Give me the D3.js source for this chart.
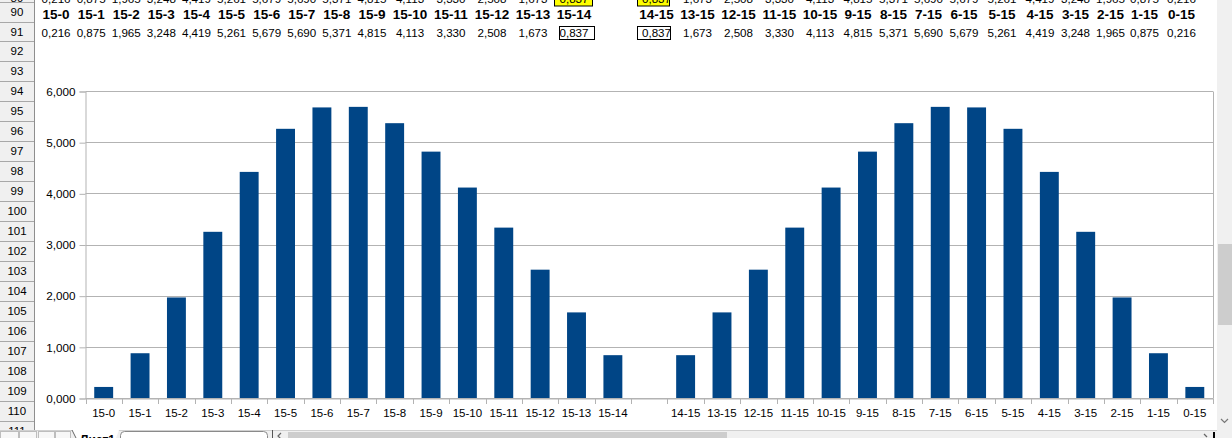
<!DOCTYPE html>
<html>
<head>
<meta charset="utf-8">
<title>15-n / n-15</title>
<script src="https://d3js.org/d3.v7.min.js"></script>
<style>
  body { margin: 0; background: #fff; overflow: hidden; }
  svg { display: block; font-family: "Liberation Sans", Arial, sans-serif; }
</style>
</head>
<body>
<svg id="sheet" width="1232" height="438"></svg>

<script>
// chart data (values as shown in rows 89-91)
var leftCats  = ["15-0","15-1","15-2","15-3","15-4","15-5","15-6","15-7","15-8","15-9","15-10","15-11","15-12","15-13","15-14"];
var rightCats = ["14-15","13-15","12-15","11-15","10-15","9-15","8-15","7-15","6-15","5-15","4-15","3-15","2-15","1-15","0-15"];
var leftVals  = [0.216,0.875,1.965,3.248,4.419,5.261,5.679,5.690,5.371,4.815,4.113,3.330,2.508,1.673,0.837];
var rightVals = [0.837,1.673,2.508,3.330,4.113,4.815,5.371,5.690,5.679,5.261,4.419,3.248,1.965,0.875,0.216];
var yTicks    = [0,1,2,3,4,5,6];
var rowNumbers = d3.range(89, 112);

// sheet layout
var leftColStart = 38.5;
var leftColWidths = [35.1,35.1,35.1,35.1,35.1,35.1,35.1,35.1,35.1,35.1,41,41,41,41,41];
var rightColStart = 636;
var rightColWidths = [41,41,41,41,40,36,35,35,36,40,36,35,35,33,41];

var ru = d3.formatLocale({decimal: ",", thousands: " ", grouping: [3], currency: ["", " ₽"]});
var fmt = ru.format(".3f");

var svg = d3.select("#sheet");

function colCenters(start, widths) {
	var out = [], x = start;
	widths.forEach(function(w) { out.push(x + w / 2); x += w; });
	return out;
}
var leftX = colCenters(leftColStart, leftColWidths);
var rightX = colCenters(rightColStart, rightColWidths);

// ---------- cells above the chart ----------
var cells = svg.append("g").attr("class", "cells");

// yellow cells in row 89
[[554, 38], [637, 32]].forEach(function(b) {
	cells.append("rect").attr("x", b[0] + 0.5).attr("y", -10).attr("width", b[1]).attr("height", 16)
		.attr("fill", "#ffff00").attr("stroke", "#000");
});
// boxed cells in row 91
[[559, 35], [637, 33]].forEach(function(b) {
	cells.append("rect").attr("x", b[0] + 0.5).attr("y", 26.5).attr("width", b[1]).attr("height", 13)
		.attr("fill", "none").attr("stroke", "#000");
});

function cellRow(labels, xs, baseline, size, weight) {
	cells.append("g").selectAll("text")
		.data(labels)
		.enter().append("text")
		.attr("x", function(d, i) { return xs[i]; })
		.attr("y", baseline)
		.attr("text-anchor", "middle")
		.style("font-size", size + "px")
		.style("font-weight", weight)
		.attr("fill", "#000")
		.text(function(d) { return d; });
}
cellRow(leftVals.map(fmt), leftX, 2.5, 11.6, "normal");
cellRow(rightVals.map(fmt), rightX, 2.5, 11.6, "normal");
cellRow(leftCats, leftX, 19, 13.5, "bold");
cellRow(rightCats, rightX, 19, 13.5, "bold");
cellRow(leftVals.map(fmt), leftX, 36.5, 11.6, "normal");
cellRow(rightVals.map(fmt), rightX, 36.5, 11.6, "normal");

// ---------- chart ----------
var allCats = leftCats.concat([""], rightCats);
var allVals = leftVals.concat([null], rightVals);

var plot = {left: 85.5, right: 1213, top: 91, bottom: 398};

var x = d3.scaleBand()
	.domain(allCats)
	.range([plot.left, plot.right])
	.paddingInner(0.48)
	.paddingOuter(0.24);

var y = d3.scaleLinear()
	.domain([0, 6])
	.range([plot.bottom, plot.top]);

var chart = svg.append("g").attr("class", "chart");

// gridlines
chart.append("g").selectAll("line")
	.data(yTicks)
	.enter().append("line")
	.attr("x1", plot.left).attr("x2", plot.right)
	.attr("y1", function(d) { return Math.round(y(d)) + 0.5; })
	.attr("y2", function(d) { return Math.round(y(d)) + 0.5; })
	.attr("stroke", "#b3b3b3");

// plot area right edge
chart.append("line")
	.attr("x1", plot.right + 0.5).attr("x2", plot.right + 0.5)
	.attr("y1", plot.top + 0.5).attr("y2", plot.bottom + 0.5)
	.attr("stroke", "#b3b3b3");

// bars
chart.append("g").selectAll("rect")
	.data(allCats.map(function(c, i) { return {cat: c, val: allVals[i]}; })
		.filter(function(d) { return d.val !== null; }))
	.enter().append("rect")
	.attr("x", function(d) { return x(d.cat); })
	.attr("width", x.bandwidth())
	.attr("y", function(d) { return y(d.val); })
	.attr("height", function(d) { return y(0) - y(d.val); })
	.attr("fill", "#004586");

// y axis
var yAxis = chart.append("g")
	.attr("transform", "translate(" + plot.left + ",0.5)")
	.call(d3.axisLeft(y).tickValues(yTicks).tickFormat(fmt).tickSize(6).tickPadding(4));
yAxis.select(".domain").attr("stroke", "#b3b3b3");
yAxis.selectAll(".tick line").attr("stroke", "#b3b3b3");
yAxis.selectAll("text").attr("fill", "#000").style("font-size", "11.7px")
	.style("font-family", "'Liberation Sans', Arial, sans-serif");

// x axis labels
var xAxis = chart.append("g")
	.attr("transform", "translate(0," + (plot.bottom + 0.5) + ")")
	.call(d3.axisBottom(x).tickSize(0).tickPadding(10));
xAxis.select(".domain").attr("stroke", "#b3b3b3");
xAxis.selectAll("text").attr("fill", "#000").style("font-size", "11.5px")
	.style("font-family", "'Liberation Sans', Arial, sans-serif");

// category boundary ticks
chart.append("g").selectAll("line")
	.data(d3.range(allCats.length + 1))
	.enter().append("line")
	.attr("x1", function(i) { return Math.round(plot.left + i * x.step()) + 0.5; })
	.attr("x2", function(i) { return Math.round(plot.left + i * x.step()) + 0.5; })
	.attr("y1", plot.bottom + 0.5).attr("y2", plot.bottom + 6)
	.attr("stroke", "#b3b3b3");

// ---------- row headers ----------
var head = svg.append("g").attr("class", "rowheads");
head.append("rect").attr("x", 0).attr("y", 0).attr("width", 34).attr("height", 438).attr("fill", "#f0f0f0");

function rowTop(r) {
	if (r <= 94) return 2 + (r - 90) * 19.65;
	return 80.6 + (r - 94) * 20;
}
head.selectAll("line.rb")
	.data(rowNumbers)
	.enter().append("line")
	.attr("class", "rb")
	.attr("x1", 0).attr("x2", 34)
	.attr("y1", function(r) { return Math.round(rowTop(r + 1)) + 0.5; })
	.attr("y2", function(r) { return Math.round(rowTop(r + 1)) + 0.5; })
	.attr("stroke", "#a8a8a8");
head.selectAll("text")
	.data(rowNumbers)
	.enter().append("text")
	.attr("x", 17)
	.attr("y", function(r) { return r === 89 ? 2 : (rowTop(r) + rowTop(r + 1)) / 2 + 4.2; })
	.attr("text-anchor", "middle")
	.style("font-size", "11.5px")
	.attr("fill", "#000")
	.text(function(r) { return r; });
head.append("line").attr("x1", 34.5).attr("x2", 34.5).attr("y1", 0).attr("y2", 438).attr("stroke", "#8e8e8e");

// ---------- vertical scrollbar ----------
var vs = svg.append("g");
vs.append("rect").attr("x", 1217).attr("y", 0).attr("width", 15).attr("height", 430).attr("fill", "#f0f0f0");
vs.append("rect").attr("x", 1218).attr("y", 244).attr("width", 14).attr("height", 81).attr("fill", "#cdcdcd");
vs.append("path").attr("d", "M1221,419 L1224.5,422.5 L1228,419").attr("fill", "none").attr("stroke", "#777").attr("stroke-width", 1.2);

// ---------- sheet tabs / horizontal scrollbar ----------
var tb = svg.append("g");
tb.append("rect").attr("x", 0).attr("y", 430).attr("width", 1232).attr("height", 8).attr("fill", "#f0f0f0");
tb.append("line").attr("x1", 0).attr("x2", 1217).attr("y1", 430.5).attr("y2", 430.5).attr("stroke", "#d0d0d0");
[[0, 18], [19, 17], [38, 16], [55, 15]].forEach(function(b) {
	tb.append("rect").attr("x", b[0] + 0.5).attr("y", 431.5).attr("width", b[1]).attr("height", 10)
		.attr("fill", "#f7f7f7").attr("stroke", "#bdbdbd");
});
tb.append("path").attr("d", "M72,430 L76,438 L116,438 L119,430 Z").attr("fill", "#fff");
tb.append("path").attr("d", "M72,430 L76,438").attr("stroke", "#666").attr("fill", "none");
tb.append("text").attr("x", 80).attr("y", 444).style("font-size", "12px").style("font-weight", "bold")
	.attr("fill", "#000").text("Лист1");
tb.append("rect").attr("x", 120.5).attr("y", 431.5).attr("width", 147).attr("height", 12).attr("rx", 4)
	.attr("fill", "#fff").attr("stroke", "#8a8a8a");
tb.append("line").attr("x1", 272.5).attr("x2", 272.5).attr("y1", 430).attr("y2", 438).attr("stroke", "#555");
tb.append("path").attr("d", "M281,433 L278,436 L281,439").attr("fill", "none").attr("stroke", "#666").attr("stroke-width", 1.2);
tb.append("rect").attr("x", 288).attr("y", 432).attr("width", 439).attr("height", 6).attr("fill", "#cdcdcd");
tb.append("path").attr("d", "M1204,434 L1207,437").attr("fill", "none").attr("stroke", "#666").attr("stroke-width", 1.2);
tb.append("rect").attr("x", 1213).attr("y", 432).attr("width", 2).attr("height", 6).attr("fill", "#000");
</script>
</body>
</html>
